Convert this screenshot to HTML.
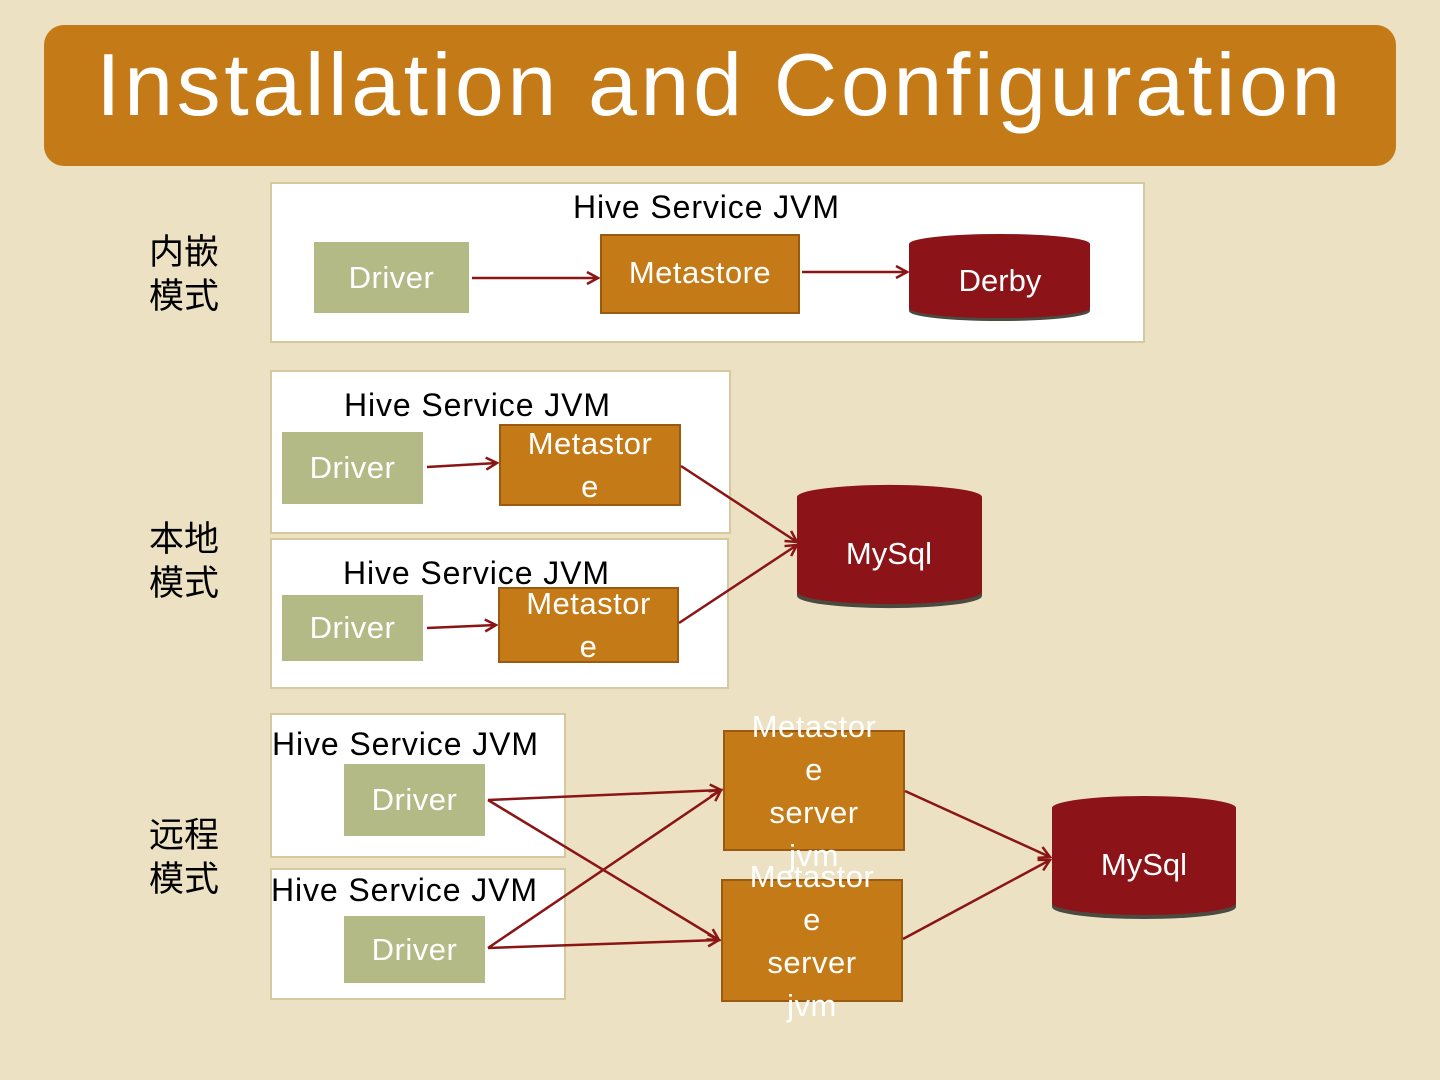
<!DOCTYPE html>
<html><head><meta charset="utf-8"><style>
body{margin:0;width:1440px;height:1080px;overflow:hidden;background:#ece2c3;font-family:"Liberation Sans","Noto Sans CJK SC",sans-serif;position:relative}
.a{position:absolute;box-sizing:border-box}
.c{position:absolute;box-sizing:border-box;border:2px solid #d6c89f;background:#fff}
.d{position:absolute;box-sizing:border-box;background:#b4ba86;color:#fff;font-size:31px;display:flex;align-items:center;justify-content:center;letter-spacing:0.5px}
.m{position:absolute;box-sizing:border-box;background:#c47a17;border:2px solid #9a5a12;color:#fff;font-size:31px;display:flex;align-items:center;justify-content:center;text-align:center;line-height:43px;overflow:visible;letter-spacing:0.5px}
.t{position:absolute;font-size:32px;color:#000;white-space:nowrap;letter-spacing:0.9px}
.z{position:absolute;font-size:35px;color:#000;line-height:44px}
</style></head><body>
<div class="a" style="left:44px;top:25px;width:1352px;height:141px;background:#c47a17;border-radius:20px;color:#fff;font-size:88px;text-align:center;line-height:120px;letter-spacing:3.6px">Installation and Configuration</div>
<div class="z" style="left:149px;top:231px">内嵌<br>模式</div>
<div class="z" style="left:149px;top:518px">本地<br>模式</div>
<div class="z" style="left:149px;top:814px">远程<br>模式</div>
<div class="c" style="left:270px;top:182px;width:875px;height:161px"></div>
<div class="c" style="left:270px;top:370px;width:461px;height:164px"></div>
<div class="c" style="left:270px;top:538px;width:459px;height:151px"></div>
<div class="c" style="left:270px;top:713px;width:296px;height:145px"></div>
<div class="c" style="left:270px;top:868px;width:296px;height:132px"></div>
<div class="t" style="left:573px;top:189px">Hive Service JVM</div>
<div class="t" style="left:344px;top:387px">Hive Service JVM</div>
<div class="t" style="left:343px;top:555px">Hive Service JVM</div>
<div class="t" style="left:272px;top:726px">Hive Service JVM</div>
<div class="t" style="left:271px;top:872px">Hive Service JVM</div>
<div class="d" style="left:314px;top:242px;width:155px;height:71px">Driver</div>
<div class="d" style="left:282px;top:432px;width:141px;height:72px">Driver</div>
<div class="d" style="left:282px;top:595px;width:141px;height:66px">Driver</div>
<div class="d" style="left:344px;top:764px;width:141px;height:72px">Driver</div>
<div class="d" style="left:344px;top:916px;width:141px;height:67px">Driver</div>
<div class="m" style="left:600px;top:234px;width:200px;height:80px;padding-bottom:4px">Metastore</div>
<div class="m" style="left:499px;top:424px;width:182px;height:82px">Metastor<br>e</div>
<div class="m" style="left:498px;top:587px;width:181px;height:76px">Metastor<br>e</div>
<div class="m" style="left:723px;top:730px;width:182px;height:121px;line-height:43px">Metastor<br>e<br>server<br>jvm</div>
<div class="m" style="left:721px;top:879px;width:182px;height:123px;line-height:43px">Metastor<br>e<br>server<br>jvm</div>
<svg class="a" style="left:0;top:0" width="1440" height="1080">
<defs><marker id="ar" markerWidth="14" markerHeight="14" refX="12" refY="7" orient="auto" markerUnits="userSpaceOnUse"><path d="M1,1 L12,7 L1,13" fill="none" stroke="#8b1414" stroke-width="2.5"/></marker></defs>
<g fill="#8c1318">
<path d="M909,244 a90,10 0 0 1 181,0 v64 a90,10 0 0 1 -181,0z" fill="#4a4a40" transform="translate(0,3)"/>
<path d="M909,244 a90,10 0 0 1 181,0 v64 a90,10 0 0 1 -181,0z"/>
<path d="M797,497 a92,12 0 0 1 185,0 v95 a92,12 0 0 1 -185,0z" fill="#4a4a40" transform="translate(0,4)"/>
<path d="M797,497 a92,12 0 0 1 185,0 v95 a92,12 0 0 1 -185,0z"/>
<path d="M1052,808 a92,12 0 0 1 184,0 v95 a92,12 0 0 1 -184,0z" fill="#4a4a40" transform="translate(0,4)"/>
<path d="M1052,808 a92,12 0 0 1 184,0 v95 a92,12 0 0 1 -184,0z"/>
</g>
<g fill="#fff" font-size="31" font-family="Liberation Sans" text-anchor="middle">
<text x="1000" y="291">Derby</text><text x="889" y="564">MySql</text><text x="1144" y="875">MySql</text>
</g>
<g stroke="#8b1414" stroke-width="2.5" fill="none" marker-end="url(#ar)">
<line x1="472" y1="278" x2="598" y2="278"/>
<line x1="802" y1="272" x2="907" y2="272"/>
<line x1="427" y1="467" x2="497" y2="463"/>
<line x1="427" y1="628" x2="496" y2="625"/>
<line x1="681" y1="466" x2="797" y2="542"/>
<line x1="679" y1="623" x2="797" y2="545"/>
<line x1="488" y1="800" x2="721" y2="790"/>
<line x1="488" y1="800" x2="719" y2="940"/>
<line x1="488" y1="948" x2="721" y2="790"/>
<line x1="488" y1="948" x2="719" y2="940"/>
<line x1="905" y1="791" x2="1050" y2="857"/>
<line x1="903" y1="939" x2="1050" y2="860"/>
</g>
</svg>
</body></html>
